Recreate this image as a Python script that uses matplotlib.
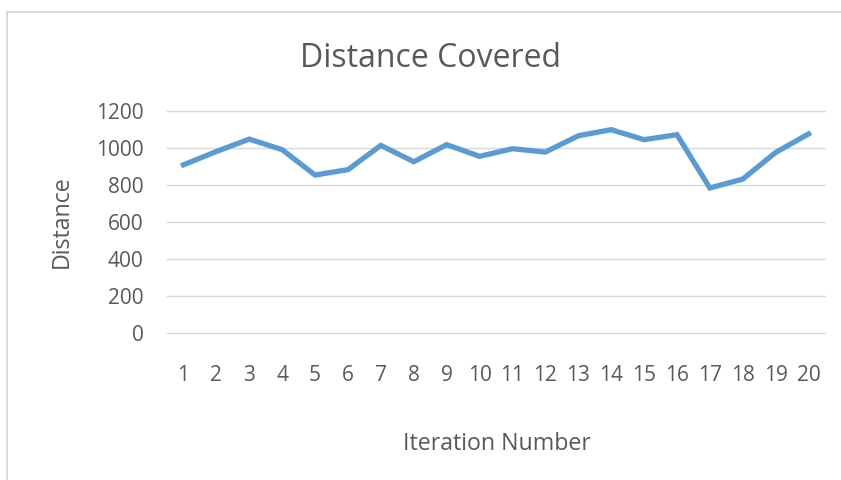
import matplotlib
matplotlib.use("Agg")
import matplotlib.pyplot as plt
from matplotlib.patches import Rectangle

iterations = list(range(1, 21))
distance = [909, 981, 1048, 991, 854, 883, 1014, 926, 1018, 955,
            996, 978, 1066, 1099, 1045, 1072, 784, 832, 976, 1076]
y_ticks = [0, 200, 400, 600, 800, 1000, 1200]

TEXT = "#595959"
GRID = "#d9d9d9"
LINE = "#5b9bd5"
W, H = 841, 480

plt.rcParams["font.family"] = ["Open Sans", "DejaVu Sans"]

fig = plt.figure(figsize=(W / 100, H / 100), dpi=100)
# chart area border (runs off the right and bottom of the image)
fig.patches.append(Rectangle((7 / W, -0.2), 1.5, 1.2 - 12 / H,
                             transform=fig.transFigure, fill=False,
                             edgecolor=GRID, linewidth=1.4))

ax = fig.add_axes([167 / W, 1 - 333 / H, 658 / W, 222 / H])
ax.plot(iterations, distance, color=LINE, linewidth=3.8, solid_joinstyle="miter")

ax.set_xlim(0.5, 20.5)
ax.set_ylim(0, 1200)
ax.set_yticks(y_ticks)
ax.set_xticks(iterations)
ax.grid(axis="y", color=GRID, linewidth=1.0)
for gl in ax.get_ygridlines():
    gl.set_clip_on(False)
ax.set_axisbelow(True)
for s in ax.spines.values():
    s.set_visible(False)
ax.tick_params(length=0, labelsize=15, labelcolor=TEXT)
ax.tick_params(axis="y", pad=17)
ax.tick_params(axis="x", pad=23)

fig.text(430 / W, 1 - 67 / H, "Distance Covered", fontsize=23, color=TEXT,
         ha="center", va="baseline")
fig.text(497 / W, 1 - 450 / H, "Iteration Number", fontsize=16.7, color=TEXT,
         ha="center", va="baseline")
fig.text(62 / W, 1 - 222 / H, "Distance", fontsize=16.7, color=TEXT,
         ha="center", va="center", rotation=90)

fig.savefig("out.png", dpi=100)
